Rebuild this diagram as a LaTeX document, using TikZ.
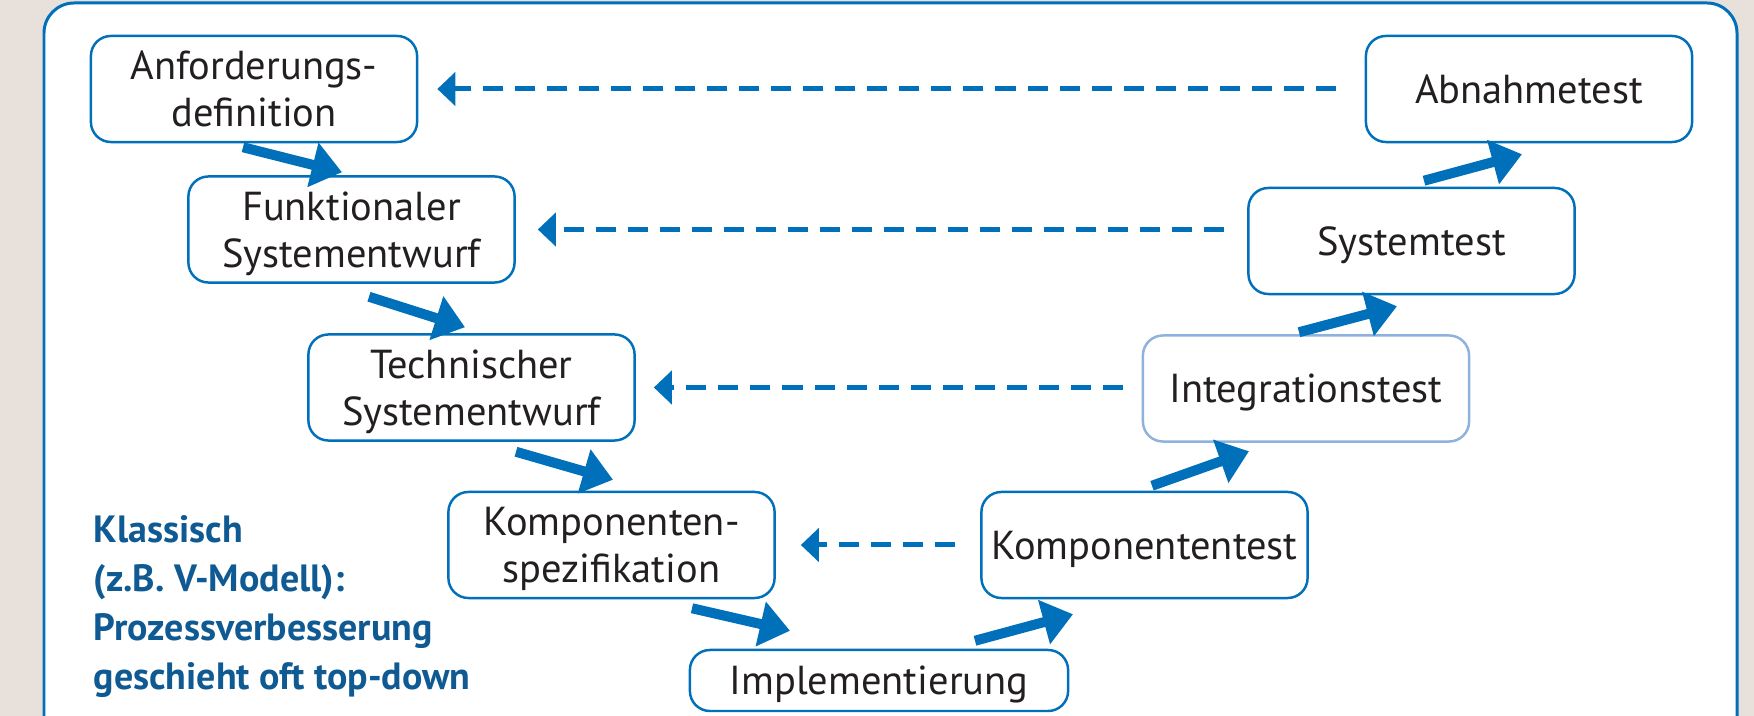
\documentclass[tikz,border=0pt]{standalone}
\usepackage{fontspec}
\setmainfont{PT Sans}
\usetikzlibrary{calc,arrows.meta}

\definecolor{vblue}{HTML}{0070BA}
\definecolor{vlight}{HTML}{8FB1DE}
\definecolor{vdark}{HTML}{0F5A92}
\definecolor{vtext}{HTML}{231F20}
\definecolor{vback}{HTML}{E7E0DB}

\tikzset{
	phase/.style={draw=vblue, line width=0.7pt, rounded corners=0.2cm, fill=white, text=vtext,
		align=center, inner sep=0pt, minimum width=3.26cm, minimum height=1.06cm,
		text depth=0pt, font=\fontsize{11.5}{13.4}\selectfont},
	forward/.style={vblue, line width=0.1cm, -{Triangle[length=0.3cm, width=0.44cm]}},
	back/.style={vblue, line width=0.05cm, dash pattern=on 0.2cm off 0.12cm,
		-{Triangle[length=0.18cm, width=0.33cm]}},
}

\begin{document}
\begin{tikzpicture}[x=0.01cm, y=-0.01cm]

		\useasboundingbox (0,0) rectangle (1754,716);
		\clip (0,0) rectangle (1754,716);
		\fill[vback] (0,0) rectangle (1754,716);
		\draw[vblue, line width=0.85pt, fill=white, rounded corners=0.3cm] (44,3) rectangle (1737,800);

		% left branch
		\node[phase] (anf) at (254,89) {Anforderungs-\\definition};
		\node[phase] (funk) at (351.5,229.5) {Funktionaler\\Systementwurf};
		\node[phase] (tech) at (471.5,387.5) {Technischer\\Systementwurf};
		\node[phase] (kspez) at (611.5,545) {Komponenten-\\spezifikation};

		% bottom
		\node[phase, minimum width=3.78cm, minimum height=0.61cm] (impl) at (879,680.5) {Implementierung};

		% right branch
		\node[phase] (ktest) at (1144.5,545) {Komponententest};
		\node[phase, draw=vlight] (integ) at (1306,388.5) {Integrationstest};
		\node[phase] (sys) at (1411.5,241) {Systemtest};
		\node[phase] (abn) at (1529,89) {Abnahmetest};

		\node[anchor=north west, inner sep=0pt, align=left, text=vdark,
			font=\fontsize{10.8}{13.9}\selectfont\bfseries] (note) at (93,515)
			{Klassisch\\(z.B. V-Modell):\\Prozessverbesserung\\geschieht oft top-down};

		% solid arrows down the V and up again
		\draw[forward] ($(anf.south)+(-11,4)$) -- ($(funk.north)+(-9.5,-3)$);
		\draw[forward] ($(funk.south)+(17.5,13)$) -- ($(tech.north)+(-6.5,-6)$);
		\draw[forward] ($(tech.south)+(44.5,10)$) -- ($(kspez.north)+(1.5,-11)$);
		\draw[forward] ($(kspez.south)+(80.5,9)$) -- ($(impl.north)+(-89,-18)$);
		\draw[forward] ($(impl.north)+(96,-8)$) -- ($(ktest.south)+(-71.5,15)$);
		\draw[forward] ($(ktest.north)+(7.5,-5)$) -- ($(integ.south)+(-57,8.5)$);
		\draw[forward] ($(integ.north)+(-7,-2)$) -- ($(sys.south)+(-14.5,11)$);
		\draw[forward] ($(sys.north)+(12.5,-6)$) -- ($(abn.south)+(-7,11)$);

		% dashed arrows back to the left
		\foreach \src/\dst/\gsrc/\gdst in {abn/anf/29/19, sys/funk/23/22, integ/tech/19/18, ktest/kspez/25/25}
		{
			\draw[back] ($(\dst.east -| \src.west)+(-\gsrc,0)$) -- ($(\dst.east)+(\gdst,0)$);
		}
	\end{tikzpicture}
\end{document}
